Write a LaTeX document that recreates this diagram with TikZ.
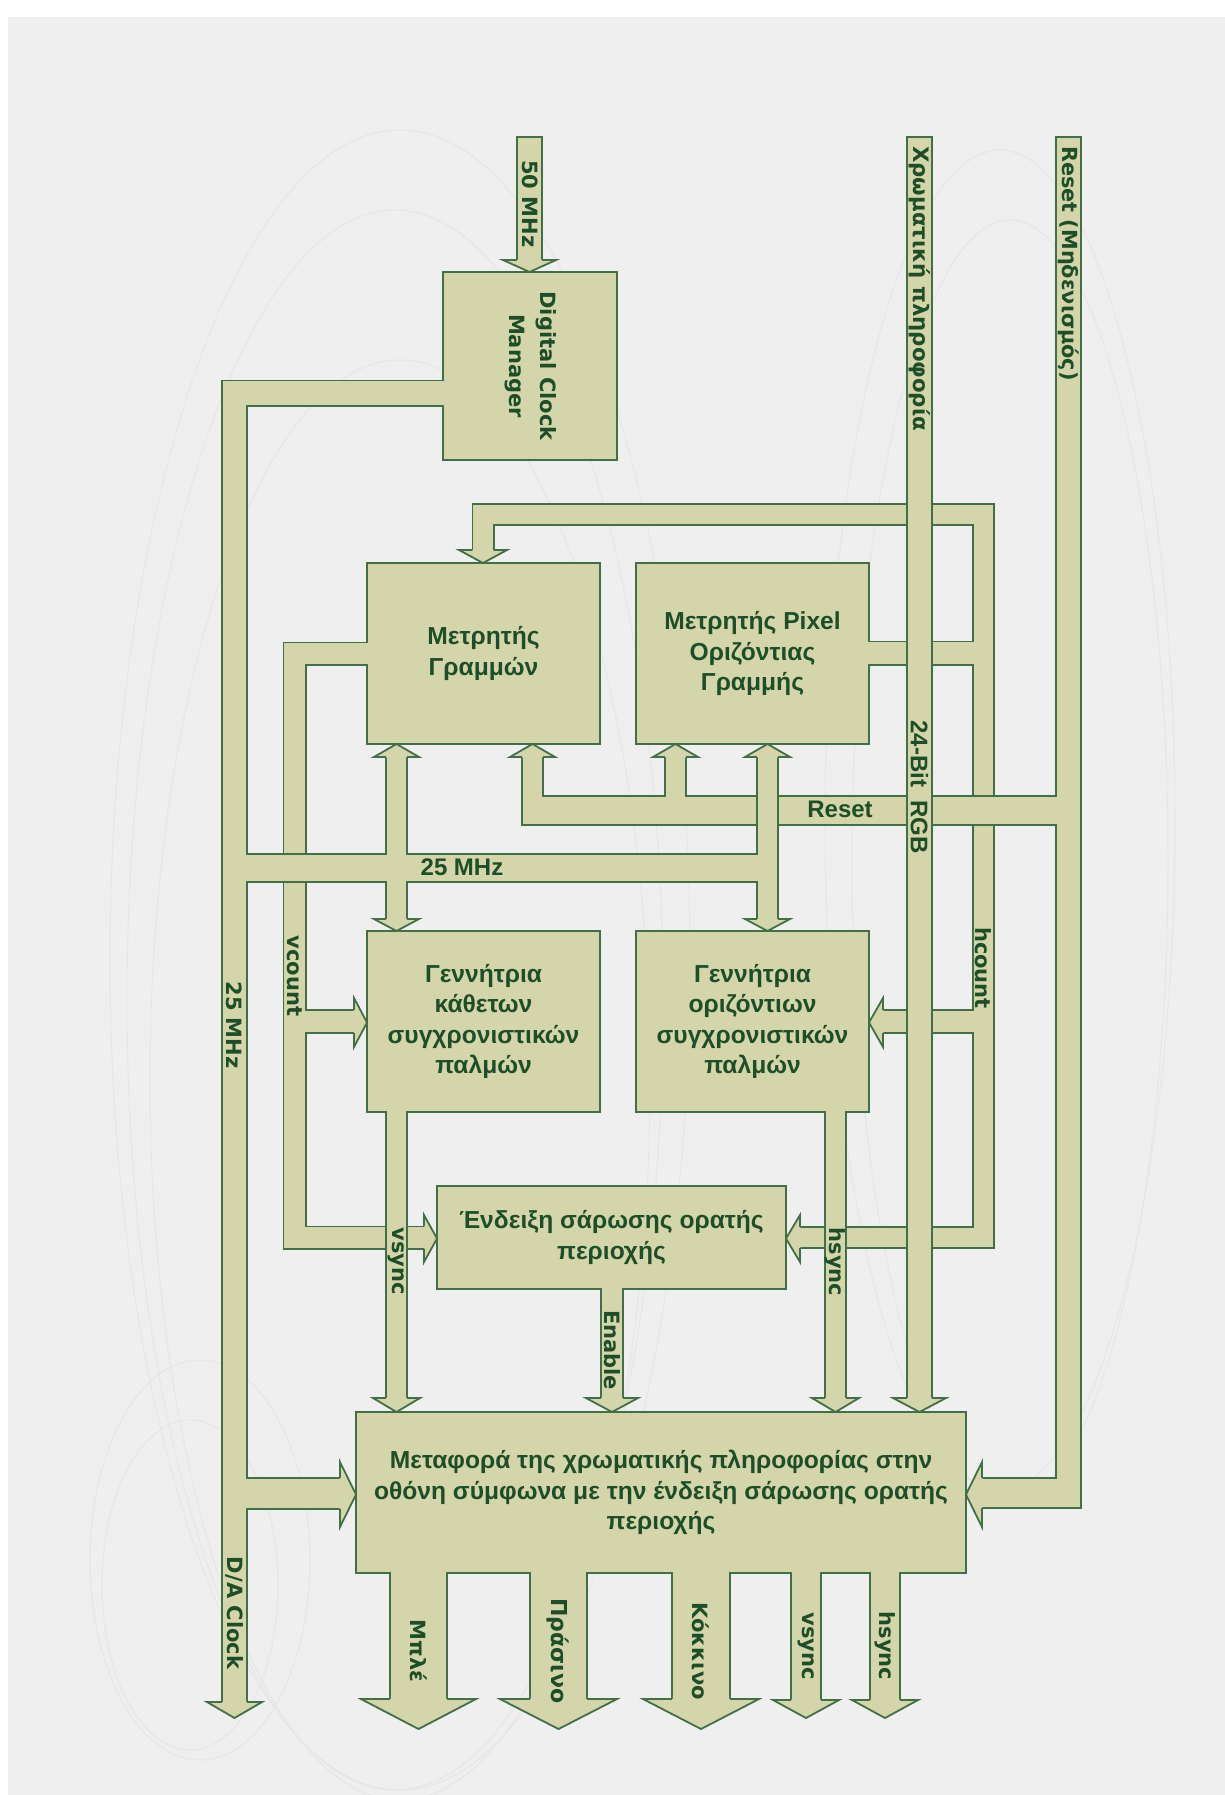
\documentclass[tikz,border=0pt]{standalone}
\usepackage{fontspec}
\setmainfont{Liberation Sans}
\newfontfamily\dvfont{DejaVu Sans}
\definecolor{pagebg}{HTML}{EFEFEF}
\definecolor{busfill}{HTML}{D5D5AB}
\definecolor{busline}{HTML}{426F48}
\definecolor{txtc}{HTML}{1D4E27}
\definecolor{swirl}{HTML}{E6E6E6}
\newcommand\boxfont{\bfseries\fontsize{24.6}{30.5}\selectfont}
\newcommand\rotfont{\dvfont\bfseries\fontsize{21}{31}\selectfont}
\newcommand\rotfontr{\dvfont\bfseries\fontsize{21.3}{26}\selectfont}
\newcommand\hfont{\bfseries\fontsize{24}{28}\selectfont}
\tikzset{
  blockbox/.style={draw=busline, line width=1.8pt, fill=busfill, inner sep=0pt, text=txtc, font=\boxfont, align=center},
  busol/.style={draw=busline, line width=#1, line cap=butt, line join=miter},
  busfl/.style={draw=busfill, line width=#1-3.6, line cap=butt, line join=miter},
  headln/.style={draw=busline, line width=1.8pt, line join=miter, line cap=butt},
  rlab/.style={text=txtc, font=\rotfont, rotate=-90, inner sep=0pt},
  rlabr/.style={text=txtc, font=\rotfontr, rotate=-90, inner sep=0pt},
  hlab/.style={text=txtc, font=\hfont, inner sep=0pt},
  swirlln/.style={draw=swirl, line width=1pt},
}
% vertical arrow head: shaft left, shaft right, wide left, wide right, base y, tip y
\newcommand\hv[6]{%
  \fill[busfill] ({#1+1.8},{#5+0.1*(#5-#6)}) -- ({#1+1.8},#5) -- (#3,#5) -- ({(#3+#4)/2},#6) -- (#4,#5) -- ({#2-1.8},#5) -- ({#2-1.8},{#5+0.1*(#5-#6)}) -- cycle;
  \draw[headln] ({#1+0.9},#5) -- (#3,#5) -- ({(#3+#4)/2},#6) -- (#4,#5) -- ({#2-0.9},#5);
}
% horizontal arrow head: shaft top, shaft bottom, wide top, wide bottom, base x, tip x
\newcommand\hh[6]{%
  \fill[busfill] ({#5+0.1*(#5-#6)},{#1+1.8}) -- (#5,{#1+1.8}) -- (#5,#3) -- (#6,{(#3+#4)/2}) -- (#5,#4) -- (#5,{#2-1.8}) -- ({#5+0.1*(#5-#6)},{#2-1.8}) -- cycle;
  \draw[headln] (#5,{#1+0.9}) -- (#5,#3) -- (#6,{(#3+#4)/2}) -- (#5,#4) -- (#5,{#2-0.9});
}
\begin{document}
\begin{tikzpicture}[x=1pt,y=-1pt]
\useasboundingbox (0,0) rectangle (1225,1795);
\fill[white] (0,0) rectangle (1225,1795);
\fill[pagebg] (8,17) rectangle (1225,1795);
% faint background swirls
\begin{scope}
\clip (8,17) rectangle (1225,1795);
\draw[swirlln] (400,960) ellipse [x radius=290pt, y radius=830pt];
\draw[swirlln] (395,1000) ellipse [x radius=268pt, y radius=790pt];
\draw[swirlln] (400,1080) ellipse [x radius=250pt, y radius=720pt];
\draw[swirlln] (1000,820) ellipse [x radius=175pt, y radius=670pt];
\draw[swirlln] (1010,860) ellipse [x radius=158pt, y radius=640pt];
\draw[swirlln] (200,1560) ellipse [x radius=110pt, y radius=200pt];
\draw[swirlln] (190,1585) ellipse [x radius=88pt, y radius=165pt];
\end{scope}
% ---------- boxes ----------
\node[blockbox, minimum width=174pt, minimum height=188pt] (dcm) at (530,366) {};
\node[blockbox, minimum width=233pt, minimum height=181pt] (lc) at (483.5,653.5) {Μετρητής\\Γραμμών};
\node[blockbox, minimum width=233pt, minimum height=181pt] (pc) at (752.5,653.5) {Μετρητής Pixel\\Οριζόντιας\\Γραμμής};
\node[blockbox, minimum width=233pt, minimum height=181pt] (vg) at (483.5,1021.5) {Γεννήτρια\\κάθετων\\συγχρονιστικών\\παλμών};
\node[blockbox, minimum width=233pt, minimum height=181pt] (hg) at (752.5,1021.5) {Γεννήτρια\\οριζόντιων\\συγχρονιστικών\\παλμών};
\node[blockbox, minimum width=349pt, minimum height=103pt] (en) at (611.5,1237.5) {Ένδειξη σάρωσης ορατής\\περιοχής};
\node[blockbox, minimum width=610pt, minimum height=161pt] (out) at (661,1492.5) {Μεταφορά της χρωματικής πληροφορίας στην\\οθόνη σύμφωνα με την ένδειξη σάρωσης ορατής\\περιοχής};
% ---------- vcount ----------
\draw[busol=24] (367,653.5) -- (294.5,653.5) -- (294.5,1237.5) -- (424,1237.5);
\draw[busol=25] (294.5,1021.5) -- (354,1021.5);
\draw[busfl=24] (369.5,653.5) -- (294.5,653.5) -- (294.5,1237.5) -- (424,1237.5);
\draw[busfl=25] (294.5,1021.5) -- (354,1021.5);
\hh{1225.5}{1249.5}{1215}{1262}{424}{437}
\hh{1009}{1034}{998}{1047}{354}{367}
% ---------- hcount ----------
\draw[busol=23] (483,550) -- (483,514.5) -- (983.5,514.5) -- (983.5,1237.5) -- (800,1237.5);
\draw[busol=25] (869,653) -- (983.5,653);
\draw[busol=25] (983.5,1021.5) -- (883,1021.5);
\draw[busfl=23] (483,550) -- (483,514.5) -- (983.5,514.5) -- (983.5,1237.5) -- (800,1237.5);
\draw[busfl=25] (866.5,653) -- (983.5,653);
\draw[busfl=25] (983.5,1021.5) -- (883,1021.5);
\hv{471.5}{494.5}{459}{507}{550}{563}
\hh{1226}{1249}{1215}{1262}{800}{786}
\hh{1009}{1034}{998}{1047}{883}{869}
% ---------- reset ----------
\draw[busol=27] (1068.5,136) -- (1068.5,1509);
\draw[busol=32] (1082,1493) -- (982,1493);
\draw[busol=31] (1068.5,810.5) -- (521,810.5);
\draw[busol=23] (532.5,826) -- (532.5,757);
\draw[busol=23] (675.5,810.5) -- (675.5,757);
\draw[busfl=27] (1068.5,137.8) -- (1068.5,1507.2);
\draw[busfl=32] (1080.2,1493) -- (982,1493);
\draw[busfl=31] (1068.5,810.5) -- (522.8,810.5);
\draw[busfl=23] (532.5,824.2) -- (532.5,757);
\draw[busfl=23] (675.5,810.5) -- (675.5,757);
\hh{1477}{1509}{1462}{1527}{982}{966}
\hv{521}{544}{510}{555}{757}{744}
\hv{664}{687}{653}{698}{757}{744}
% ---------- 25 MHz clock ----------
\draw[busol=27] (443,393) -- (234.5,393) -- (234.5,1702);
\draw[busol=30] (234.5,868) -- (779,868);
\draw[busol=23] (396.5,757) -- (396.5,919);
\draw[busol=23] (767.5,757) -- (767.5,919);
\draw[busol=33] (234.5,1493.5) -- (340,1493.5);
\draw[busfl=27] (445.5,393) -- (234.5,393) -- (234.5,1702);
\draw[busfl=30] (234.5,868) -- (777.2,868);
\draw[busfl=23] (396.5,757) -- (396.5,919);
\draw[busfl=23] (767.5,757) -- (767.5,919);
\draw[busfl=33] (234.5,1493.5) -- (340,1493.5);
\hv{221}{248}{207}{262}{1702}{1718}
\hv{385}{408}{374}{419}{757}{744}
\hv{385}{408}{374}{419}{919}{931}
\hv{756}{779}{745}{790}{757}{744}
\hv{756}{779}{745}{790}{919}{931}
\hh{1477}{1510}{1462}{1527}{340}{356}
% ---------- vsync / hsync / enable ----------
\draw[busol=23] (396.5,1112) -- (396.5,1398);
\draw[busfl=23] (396.5,1109.5) -- (396.5,1398);
\hv{385}{408}{373}{420}{1398}{1412}
\draw[busol=23] (835.5,1112) -- (835.5,1398);
\draw[busfl=23] (835.5,1109.5) -- (835.5,1398);
\hv{824}{847}{812}{859}{1398}{1412}
\draw[busol=24] (612,1289) -- (612,1398);
\draw[busfl=24] (612,1286.5) -- (612,1398);
\hv{600}{624}{586}{638}{1398}{1412}
% ---------- outputs ----------
\draw[busol=59] (418.5,1573) -- (418.5,1699);
\draw[busfl=59] (418.5,1570.5) -- (418.5,1699);
\hv{389}{448}{361}{476}{1699}{1729}
\draw[busol=59] (558.5,1573) -- (558.5,1699);
\draw[busfl=59] (558.5,1570.5) -- (558.5,1699);
\hv{529}{588}{500}{617}{1699}{1729}
\draw[busol=60] (701,1573) -- (701,1699);
\draw[busfl=60] (701,1570.5) -- (701,1699);
\hv{671}{731}{643}{759}{1699}{1729}
\draw[busol=32] (806,1573) -- (806,1700);
\draw[busfl=32] (806,1570.5) -- (806,1700);
\hv{790}{822}{773}{839}{1700}{1718}
\draw[busol=32] (885,1573) -- (885,1700);
\draw[busfl=32] (885,1570.5) -- (885,1700);
\hv{869}{901}{852}{918}{1700}{1718}
% ---------- 50 MHz ----------
\draw[busol=27] (529.5,136) -- (529.5,260);
\draw[busfl=27] (529.5,137.8) -- (529.5,260);
\hv{516}{543}{503}{556}{260}{272}
% ---------- colour information ----------
\draw[busol=27] (919.5,136) -- (919.5,1398);
\draw[busfl=27] (919.5,137.8) -- (919.5,1398);
\hv{906}{933}{893}{946}{1398}{1412}
% ---------- labels ----------
\node[rlab, anchor=west] (l50) at (530,160) {50 MHz};
\node[rlab, align=center] (ldcm) at (531,366) {Digital Clock\\Manager};
\node[rlabr, anchor=west] (lchrom) at (920,146) {Χρωματική πληροφορία};
\node[rlabr, anchor=west, font=\dvfont\bfseries\fontsize{20.8}{24}\selectfont] (lrst) at (1069,146) {Reset (Μηδενισμός)};
\node[hlab] (lreset) at (840,809) {Reset};
\node[hlab] (l25h) at (462,867) {25 MHz};
\node[hlab, rotate=-90] (lrgb) at (919.5,787) {24-Bit\ \ RGB};
\node[rlab] (lvc) at (294.5,976) {vcount};
\node[rlab] (lhc) at (983.5,968) {hcount};
\node[rlab] (l25v) at (234.5,1025) {25 MHz};
\node[rlab] (lvs) at (396.5,1261) {vsync};
\node[rlab] (lhs) at (835.5,1262) {hsync};
\node[rlab] (len) at (612,1350) {Enable};
\node[rlab] (lda) at (234.5,1613) {D/A Clock};
\node[rlab] (lb) at (418.5,1651) {Μπλέ};
\node[rlab, font=\dvfont\bfseries\fontsize{22}{26}\selectfont] (lg) at (558.5,1651) {Πράσινο};
\node[rlab] (lr) at (701,1651) {Κόκκινο};
\node[rlab] (lvs2) at (806,1646) {vsync};
\node[rlab] (lhs2) at (885,1646) {hsync};
\end{tikzpicture}
\end{document}
